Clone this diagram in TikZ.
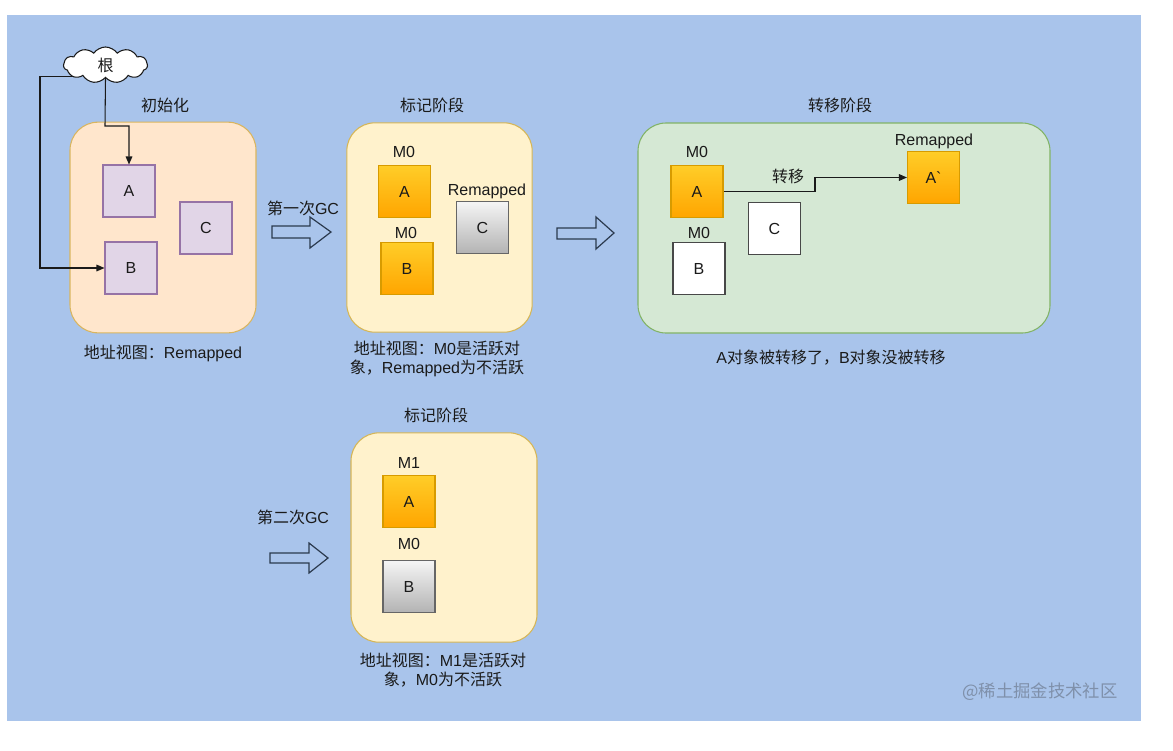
\documentclass[tikz,border=0pt]{standalone}
\usepackage{fontspec}
\setmainfont{Liberation Sans}
\newfontfamily\cjk{Noto Sans CJK SC}
\newcommand\zht[1]{{\cjk #1}}
\usetikzlibrary{shapes.symbols,arrows.meta}
\definecolor{bgblue}{HTML}{A9C4EB}
\definecolor{peachfill}{HTML}{FFE6CC}
\definecolor{peachline}{HTML}{D9B55F}
\definecolor{yelfill}{HTML}{FFF2CC}
\definecolor{yelline}{HTML}{D6B656}
\definecolor{grnfill}{HTML}{D5E8D4}
\definecolor{grnline}{HTML}{82B366}
\definecolor{purfill}{HTML}{E1D5E7}
\definecolor{purline}{HTML}{9673A6}
\definecolor{orgtop}{HTML}{FFCD28}
\definecolor{orgbot}{HTML}{FFA500}
\definecolor{orgline}{HTML}{D79B00}
\definecolor{grytop}{HTML}{F5F5F5}
\definecolor{grybot}{HTML}{B3B3B3}
\definecolor{gryline}{HTML}{666666}
\definecolor{ink}{HTML}{1A1A1A}
\definecolor{arrowline}{HTML}{2B3A4E}
\definecolor{wmark}{HTML}{7F90AA}
\tikzset{
  txt/.style={font=\fontsize{12}{14.3}\selectfont, text=ink, inner sep=0pt},
  bigbox/.style={draw, line width=0.8pt, rounded corners=21pt, inner sep=0pt},
  peachbox/.style={bigbox, fill=peachfill, draw=peachline},
  yelbox/.style={bigbox, fill=yelfill, draw=yelline},
  grnbox/.style={bigbox, fill=grnfill, draw=grnline},
  obj/.style={txt, draw, line width=0.8pt, minimum width=39pt, minimum height=39pt},
  purobj/.style={obj, fill=purfill, draw=purline},
  orgobj/.style={obj, top color=orgtop, bottom color=orgbot, draw=orgline},
  gryobj/.style={obj, top color=grytop, bottom color=grybot, draw=gryline},
  whtobj/.style={obj, fill=white, draw=ink!80},
  conn/.style={draw=ink, line width=0.8pt, -{Triangle[length=6pt,width=5pt]}},
  blockarrow/.style={draw=arrowline, fill=bgblue, line width=0.9pt, line join=miter},
}
\begin{document}
\begin{tikzpicture}[x=0.75pt,y=-0.75pt]
\useasboundingbox (0,0) rectangle (1173,750);
\fill[white] (0,0) rectangle (1173,750);
\fill[bgblue] (7,15) rectangle (1141,721);

% ---------- initial ----------
\node[peachbox, minimum width=139.5pt, minimum height=158pt] (box1) at (163,227.5) {};
\node[txt] (t1) at (165,105) {\zht{初始化}};
\node[purobj] (iA) at (129,191) {A};
\node[purobj] (iB) at (131,268) {B};
\node[purobj] (iC) at (206,228) {C};
\node[txt] (l1) at (163,353) {\zht{地址视图：}Remapped};
\node[cloud, cloud puffs=11, cloud puff arc=110, aspect=2.3, draw=ink, fill=white, line width=0.8pt,
      minimum width=63pt, minimum height=27pt, inner sep=0pt, font=\fontsize{12}{14.3}\selectfont, text=ink] (root) at (105.5,65) {\zht{根}};
\draw[conn] (root.south) -- (105,126) -| (iA.north);
\draw[conn] (root.200) -| (40,268) -- (iB.west);

% ---------- first GC ----------
\node[txt] (g1) at (303,208) {\zht{第一次}GC};
\draw[blockarrow] (272,226) -- (310,226) -- (310,217) -- (331,232) -- (310,248) -- (310,238) -- (272,238) -- cycle;

% ---------- mark phase ----------
\node[yelbox, minimum width=139pt, minimum height=157pt] (box2) at (439.5,227.5) {};
\node[txt] (t2) at (432,105) {\zht{标记阶段}};
\node[txt] (m2a) at (404,152) {M0};
\node[orgobj] (mA) at (404.5,191.5) {A};
\node[txt] (m2b) at (406,233) {M0};
\node[orgobj] (mB) at (407,268.5) {B};
\node[txt] (r2) at (487,191) {Remapped};
\node[gryobj] (mC) at (482.5,227.5) {C};
\node[txt, align=center] (l2) at (437,358.5) {\zht{地址视图：}M0\zht{是活跃对}\\\zht{象，}Remapped\zht{为不活跃}};

\draw[blockarrow] (557,228) -- (596,228) -- (596,217) -- (614,233) -- (596,249) -- (596,239) -- (557,239) -- cycle;

% ---------- relocate phase ----------
\node[grnbox, minimum width=309pt, minimum height=157.5pt] (box3) at (844,228) {};
\node[txt] (t3) at (840,105) {\zht{转移阶段}};
\node[txt] (m3a) at (697,152) {M0};
\node[orgobj] (gA) at (697,191.5) {A};
\node[txt] (m3b) at (699,233) {M0};
\node[whtobj] (gB) at (699,268.5) {B};
\node[whtobj] (gC) at (774.5,228.5) {C};
\node[txt] (r3) at (934,141) {Remapped};
\node[orgobj] (gAp) at (933.5,177.5) {A\textasciigrave};
\node[txt] (mv) at (788,176) {\zht{转移}};
\draw[conn] (gA.east) -- (815,191.5) |- (gAp.west);
\node[txt] (l3) at (831,358) {A\zht{对象被转移了，}B\zht{对象没被转移}};

% ---------- second GC ----------
\node[txt] (g2) at (293,517) {\zht{第二次}GC};
\draw[blockarrow] (270,553) -- (309,553) -- (309,543) -- (328,558) -- (309,573) -- (309,563) -- (270,563) -- cycle;

\node[yelbox, minimum width=139.5pt, minimum height=157pt] (box4) at (444,537.5) {};
\node[txt] (t4) at (436,415) {\zht{标记阶段}};
\node[txt] (m4a) at (409,463) {M1};
\node[orgobj] (nA) at (409,501.5) {A};
\node[txt] (m4b) at (409,544) {M0};
\node[gryobj] (nB) at (409,586.5) {B};
\node[txt, align=center] (l4) at (443,670) {\zht{地址视图：}M1\zht{是活跃对}\\\zht{象，}M0\zht{为不活跃}};

% ---------- watermark ----------
\node[font=\fontsize{13}{15}\selectfont, text=wmark, inner sep=0pt] (wm) at (1040,692) {\zht{@稀土掘金技术社区}};
\end{tikzpicture}
\end{document}
